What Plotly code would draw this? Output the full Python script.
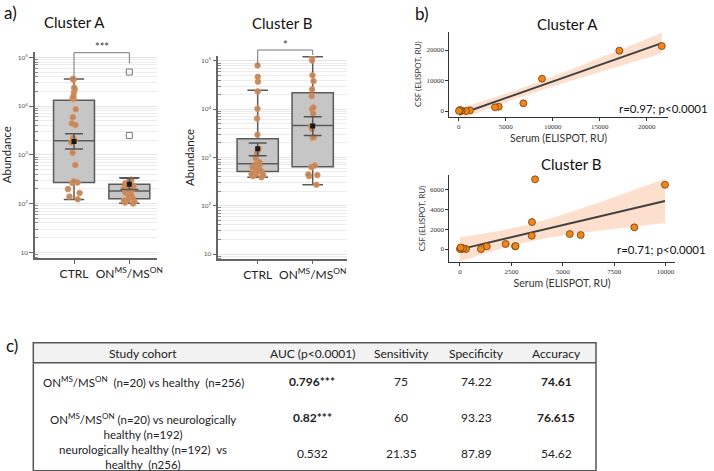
import numpy as np
import plotly.graph_objects as go

W, H = 714, 471
def PX(p): return p / W
def PY(p): return 1 - p / H

# ---------------- data ----------------
groups = ["CTRL", "ON<sup>MS</sup>/MS<sup>ON</sup>"]

# Cluster A abundance
ctrlA = [36000, 35000, 24000, 22000, 19000, 16000, 14700, 14000, 8600, 5900, 4400, 4100,
         2200, 1950, 1800, 1100, 620, 285, 270, 265, 198, 165, 139, 123]
onA = [310, 290, 270, 260, 245, 235, 225, 210, 200, 190, 180, 170, 160, 150, 140,
       130, 120, 115, 110, 105, 100]
outA = [50000, 2500]
q1A, medA, q3A = [270, 125], [1940, 180], [13100, 250]
loA, hiA = [121, 102], [35800, 340]
meanA, meanA_hi, meanA_lo = [1870, 250], [2700, 330], [1310, 195]

# Cluster B abundance
ctrlB = [80000, 46700, 37000, 23300, 10200, 6400, 2950, 1500, 1230, 970, 800, 740, 690,
         630, 600, 565, 520, 510, 466, 450, 430, 410, 390]
onB = [122000, 102000, 50000, 38000, 25700, 18600, 10800, 10000, 8000, 4450, 3900, 2630,
       2550, 680, 630, 445, 430, 410, 272]
q1B, medB, q3B = [513, 640], [740, 4600], [2440, 21800]
loB, hiB = [390, 272], [24500, 122000]
meanB, meanB_hi, meanB_lo = [1510, 4450], [2000, 6940], [1080, 2850]

# correlation data
serA = [21600, 17090, 8860, 6880, 4260, 3860, 1200, 780, 300, 140, 30]
csfA = [21300, 19780, 10600, 2520, 1420, 1200, 220, 0, 100, 330, 50]
serB = [9970, 3650, 3500, 8480, 5340, 5870, 3490, 2220, 2680, 2700, 1300, 1020, 290, 80, 0, 150, 30]
csfB = [6530, 7080, 2740, 2200, 1520, 1420, 1350, 510, 270, 290, 270, 0, 0, 0, 0, 80, 150]

# table
hdr = ["Study cohort", "AUC (p<0.0001)", "Sensitivity", "Specificity", "Accuracy"]
cohorts = ["ON<sup>MS</sup>/MS<sup>ON</sup>  (n=20) vs healthy  (n=256)",
           "ON<sup>MS</sup>/MS<sup>ON</sup> (n=20) vs neurologically<br>healthy (n=192)",
           "neurologically healthy (n=192)  vs<br>healthy  (n256)"]
auc = ["<b>0.796***</b>", "<b>0.82***</b>", "0.532"]
sens = ["75", "60", "21.35"]
spec = ["74.22", "93.23", "87.89"]
acc = ["<b>74.61</b>", "<b>76.615</b>", "54.62"]

FONT = "Lato"
BOXFILL = "#c6c6c6"
BOXLINE = "#5a5a5a"
DOTFILL = "rgba(176,138,112,0.95)"
DOTLINE = "#ec8a45"

fig = go.Figure()

def box_panel(xa, ya, ctrl, on, q1, med, q3, lo, hi, mean, mhi, mlo, width):
    fig.add_trace(go.Box(x=groups, q1=q1, median=med, q3=q3, lowerfence=lo, upperfence=hi,
                         width=width, whiskerwidth=0.5, fillcolor=BOXFILL,
                         line=dict(color=BOXLINE, width=1.5), boxpoints=False,
                         xaxis=xa, yaxis=ya, showlegend=False, hoverinfo="skip"))
    for g, vals in zip(groups, [ctrl, on]):
        fig.add_trace(go.Box(x=[g] * len(vals), y=vals, boxpoints="all", jitter=0.5, pointpos=0,
                             width=width * 0.7, fillcolor="rgba(0,0,0,0)",
                             line=dict(width=0, color="rgba(0,0,0,0)"),
                             marker=dict(size=5.5, color=DOTFILL, line=dict(color=DOTLINE, width=1)),
                             xaxis=xa, yaxis=ya, showlegend=False))
    fig.add_trace(go.Scatter(x=groups, y=mean, mode="markers",
                             marker=dict(symbol="square", size=5, color="#1a1a1a"),
                             error_y=dict(type="data", symmetric=False,
                                          array=[h - m for h, m in zip(mhi, mean)],
                                          arrayminus=[m - l for m, l in zip(mean, mlo)],
                                          color="#555555", thickness=1.5, width=9),
                             xaxis=xa, yaxis=ya, showlegend=False))

box_panel("x", "y", ctrlA, onA, q1A, medA, q3A, loA, hiA, meanA, meanA_hi, meanA_lo, 0.74)
fig.add_trace(go.Scatter(x=[groups[1]] * len(outA), y=outA, mode="markers",
                         marker=dict(symbol="square-open", size=6, color="#777777", line=dict(width=1)),
                         xaxis="x", yaxis="y", showlegend=False))
box_panel("x2", "y2", ctrlB, onB, q1B, medB, q3B, loB, hiB, meanB, meanB_hi, meanB_lo, 0.75)

# regression panels
def tq(df):
    z = 1.959964
    return z + (z**3 + z) / (4 * df) + (5 * z**5 + 16 * z**3 + 3 * z) / (96 * df**2)

def reg_panel(xa, ya, xs, ys):
    x = np.array(xs, float); y = np.array(ys, float)
    n = len(x)
    b, a = np.polyfit(x, y, 1)
    res = y - (a + b * x)
    s = np.sqrt(np.sum(res**2) / (n - 2))
    gx = np.linspace(x.min(), x.max(), 80)
    gy = a + b * gx
    se = s * np.sqrt(1 / n + (gx - x.mean())**2 / np.sum((x - x.mean())**2))
    hw = tq(n - 2) * se
    fig.add_trace(go.Scatter(x=np.concatenate([gx, gx[::-1]]),
                             y=np.concatenate([gy + hw, (gy - hw)[::-1]]),
                             fill="toself", fillcolor="rgba(250,196,164,0.55)",
                             line=dict(width=0), mode="lines", hoverinfo="skip",
                             xaxis=xa, yaxis=ya, showlegend=False))
    fig.add_trace(go.Scatter(x=gx, y=gy, mode="lines", line=dict(color="#404040", width=2),
                             xaxis=xa, yaxis=ya, showlegend=False))
    fig.add_trace(go.Scatter(x=xs, y=ys, mode="markers",
                             marker=dict(size=7, color="#f0861a", line=dict(color="#6b4010", width=0.8)),
                             xaxis=xa, yaxis=ya, showlegend=False))

reg_panel("x3", "y3", serA, csfA)
reg_panel("x4", "y4", serB, csfB)

# axes
minor_vals = [m * 10**k for k in range(0, 6) for m in range(2, 10)]
ticktxt = ["10", "10<sup>2</sup>", "10<sup>3</sup>", "10<sup>4</sup>", "10<sup>5</sup>"]
def logy(dom, rng, anchor):
    return dict(type="log", domain=dom, range=rng, tickvals=[10, 100, 1000, 10000, 100000],
                ticktext=ticktxt, tickfont=dict(size=6.5, color="#555"), anchor=anchor,
                ticks="outside", ticklen=4, tickcolor="#666", showline=True, linecolor="#666",
                linewidth=1.5, showgrid=True, gridcolor="#e4e4e4", zeroline=False, automargin=False,
                minor=dict(tickvals=minor_vals, ticks="inside", ticklen=3, tickcolor="#888",
                           showgrid=True, gridcolor="#ececec"),
                title=dict(text="Abundance", font=dict(size=11.5, color="#222"), standoff=4))
def catx(dom, rng, anchor):
    return dict(domain=dom, range=rng, type="category", categoryorder="array", categoryarray=groups,
                showline=True, linecolor="#666", linewidth=1.5, ticks="outside", ticklen=4,
                tickcolor="#666", tickfont=dict(size=12, color="#222"), showgrid=False,
                anchor=anchor, automargin=False)

def liny(dom, rng, tv, anchor):
    return dict(domain=dom, range=rng, tickvals=tv, tickformat="d",
                tickfont=dict(size=7, color="#333", family="Liberation Serif"),
                ticks="outside", ticklen=3, tickcolor="#333", showline=True, linecolor="#333",
                linewidth=1, showgrid=False, zeroline=False, anchor=anchor, automargin=False,
                title=dict(text="CSF (ELISPOT, RU)", font=dict(size=8, color="#333"), standoff=3))
def linx(dom, rng, tv, anchor):
    return dict(domain=dom, range=rng, tickvals=tv, tickformat="d",
                tickfont=dict(size=7, color="#333", family="Liberation Serif"),
                ticks="outside", ticklen=3, tickcolor="#333", showline=True, linecolor="#333",
                linewidth=1, showgrid=False, zeroline=False, anchor=anchor, automargin=False,
                title=dict(text="Serum (ELISPOT, RU)", font=dict(size=10.5, color="#333"), standoff=4))

fig.update_layout(
    width=W, height=H, margin=dict(l=0, r=0, t=0, b=0, autoexpand=False),
    paper_bgcolor="white", plot_bgcolor="white",
    font=dict(family=FONT, color="#222"),
    boxmode="overlay",
    xaxis=catx([PX(35), PX(157)], [-0.705, 1.5], "y"),
    yaxis=logy([PY(258), PY(51.5)], [0.883, 5.12], "x"),
    xaxis2=catx([PX(218.3), PX(346.7)], [-0.716, 1.618], "y2"),
    yaxis2=logy([PY(258.7), PY(56)], [0.903, 5.10], "x2"),
    xaxis3=linx([PX(449.3), PX(668)], [-1000, 22266], [0, 5000, 10000, 15000, 20000], "y3"),
    yaxis3=liny([PY(116.7), PY(31.7)], [-1870, 26000], [0, 10000, 20000], "x3"),
    xaxis4=linx([PX(449.3), PX(675)], [-520, 10457], [0, 2500, 5000, 7500, 10000], "y4"),
    yaxis4=liny([PY(262), PY(175)], [-1320, 7520], [0, 2000, 4000, 6000], "x4"),
)

def note(x, y, text, size=11.5, xanchor="center", xref="paper", color="#111"):
    fig.add_annotation(xref=xref, yref="paper", x=x, y=y, text=text, showarrow=False,
                       xanchor=xanchor, yanchor="middle", align="center",
                       font=dict(family=FONT, size=size, color=color))

# significance brackets
def bracket(xref, ytop, yl, yr, label, ylab):
    fig.add_shape(type="path", xref=xref, yref="paper",
                  path=f"M 0,{PY(yl)} L 0,{PY(ytop)} L 1,{PY(ytop)} L 1,{PY(yr)}",
                  line=dict(color="#777", width=1))
    note(0.5, PY(ylab), label, size=11, xref=xref, color="#333")
bracket("x", 52.7, 79, 63.3, "***", 47)
bracket("x2", 50, 65, 55, "*", 45)

ann = [
    ("a)", 10, 13, 17), ("b)", 421.7, 14, 17), ("c)", 12, 345, 17),
    ("Cluster A", 74, 22, 15), ("Cluster B", 282, 23, 15),
    ("Cluster A", 567, 24, 15), ("Cluster B", 571, 164, 15),
]
for t, x, y, s in ann:
    note(PX(x), PY(y), t, size=s)
note(PX(710), PY(109), "r=0.97; p<0.0001", xanchor="right")
note(PX(708), PY(249), "r=0.71; p<0.0001", xanchor="right")

# table (c)
T_L, T_R, T_T, T_HB, T_B = 33.3, 596, 342.7, 362.7, 470.7
fig.add_shape(type="rect", xref="paper", yref="paper", x0=PX(T_L), x1=PX(T_R), y0=PY(T_HB), y1=PY(T_T),
              line=dict(width=0), fillcolor="#f2f2f2", layer="below")
fig.add_shape(type="rect", xref="paper", yref="paper", x0=PX(T_L), x1=PX(T_R), y0=PY(T_B), y1=PY(T_T),
              line=dict(color="#555", width=1.5))
fig.add_shape(type="line", xref="paper", yref="paper", x0=PX(T_L), x1=PX(T_R), y0=PY(T_HB), y1=PY(T_HB),
              line=dict(color="#555", width=1.5))
col_x = [143.3, 312, 401, 476.5, 556]
hdr_y = 353
cohort_y = [381, 425.5, 457]
val_y = [381, 417, 453]
for cx, h in zip(col_x, hdr):
    note(PX(cx), PY(hdr_y), h, size=12, color="#222")
for cy, t in zip(cohort_y, cohorts):
    note(PX(col_x[0]), PY(cy), t, size=11.5, color="#222")
for cx, col in zip(col_x[1:], [auc, sens, spec, acc]):
    for vy, t in zip(val_y, col):
        note(PX(cx), PY(vy), t, size=12, color="#222")

fig.write_html("out.html", post_script="document.body.style.margin='0';",
               config={"displayModeBar": False})
